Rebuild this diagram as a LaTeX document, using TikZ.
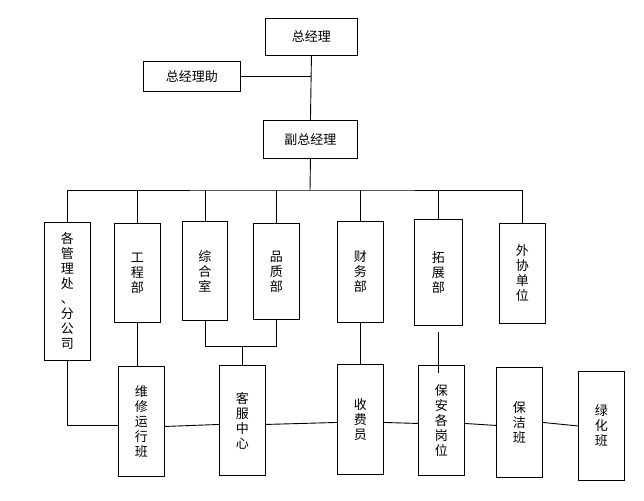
\documentclass[tikz,border=0pt]{standalone}
\usepackage{fontspec}
\setmainfont{Noto Sans CJK SC}
\begin{document}
\begin{tikzpicture}[x=1pt,y=-1pt,
  box/.style={draw,line width=0.9pt,anchor=north west,inner sep=0pt,align=center,font=\fontsize{13}{15}\selectfont},
  ln/.style={line width=0.9pt}]
\useasboundingbox[fill=white] (0,0) rectangle (644,500);
\newcommand\bx[6]{\node[box,minimum width=#4-#2,minimum height=#5-#3] (#1) at (#2,#3) {#6};}
\bx{zjl}{265}{18}{357}{55}{总经理}
\bx{zl}{143}{61}{240}{91}{总经理助}
\bx{fz}{263}{120}{357}{158}{副总经理}
\bx{gg}{44}{222}{90}{360}{各\\管\\理\\处\\、\\分\\公\\司}
\bx{gc}{114}{223}{160}{322}{工\\程\\部}
\bx{zh}{182}{221}{227}{320}{综\\合\\室}
\bx{pz}{253}{223}{299}{319}{品\\质\\部}
\bx{cw}{337}{221}{383}{322}{财\\务\\部}
\bx{tz}{414}{219}{462}{325}{拓\\展\\部}
\bx{wx}{499}{223}{545}{323}{外\\协\\单\\位}
\bx{wy}{118}{366}{164}{476}{维\\修\\运\\行\\班}
\bx{kf}{219}{365}{265}{475}{客\\服\\中\\心}
\bx{sf}{337}{364}{383}{474}{收\\费\\员}
\bx{ba}{418}{365}{464}{475}{保\\安\\各\\岗\\位}
\bx{bj}{496}{367}{542}{477}{保\\洁\\班}
\bx{lh}{578}{371}{624}{480}{绿\\化\\班}
\coordinate (bus) at (310,190);
\draw[ln] (zjl.south) -- (fz.north);
\draw[ln] (zl.east) -- (zl.east -| zjl.south);
\draw[ln] (fz.south) -- (bus);
\draw[ln] (gg.north) |- (bus) -| (wx.north);
\foreach \n in {gc,zh,pz,cw,tz} \draw[ln] (\n.north) -- (\n.north |- bus);
\draw[ln] (gg.south) |- ([yshift=-4pt]wy.west);
\draw[ln] (gc.south) -- (gc.south |- wy.north);
\coordinate (j1) at (zh.south |- 0,346);
\draw[ln] (zh.south) -- (j1) -| (pz.south);
\draw[ln] (kf.north) -- (kf.north |- j1);
\draw[ln] (cw.south) -- (sf.north);
\draw[ln] (tz.south) ++(0,6) -- ([yshift=-8pt]tz.south |- ba.north);
\draw[ln] ([yshift=-5pt]wy.east) -- ([yshift=-4pt]kf.west);
\draw[ln] ([yshift=-4pt]kf.east) -- ([yshift=-3pt]sf.west);
\draw[ln] ([yshift=-3pt]sf.east) -- ([yshift=-3pt]ba.west);
\draw[ln] ([yshift=-3pt]ba.east) -- ([yshift=-3pt]bj.west);
\draw[ln] (bj.east) -- (lh.west);
\end{tikzpicture}
\end{document}
